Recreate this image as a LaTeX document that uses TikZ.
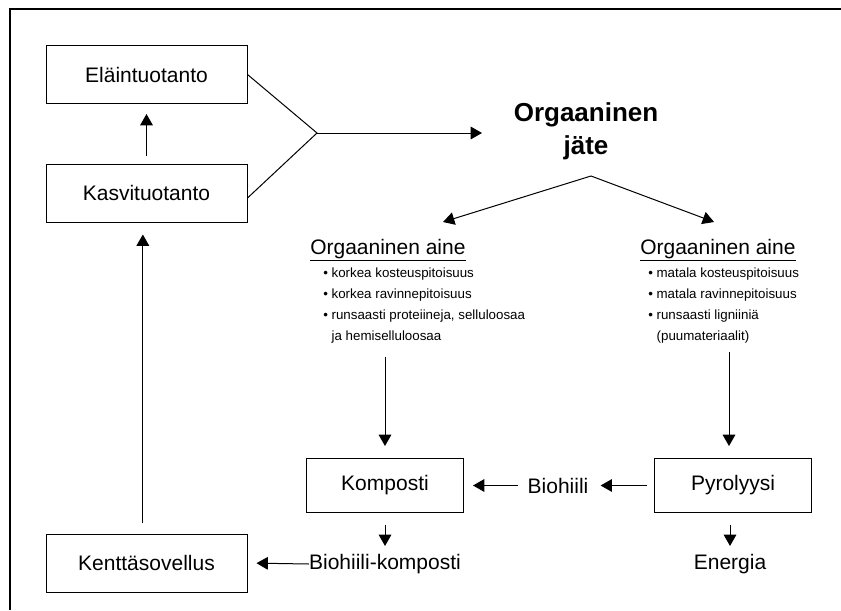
\documentclass[tikz,border=0pt]{standalone}
\usepackage{fontspec}
\setmainfont{Liberation Sans}
\usetikzlibrary{arrows.meta,positioning}

\begin{document}
\begin{tikzpicture}[x=0.75pt,y=-0.75pt,
  box/.style={draw,line width=0.75pt,minimum width=150.75pt,minimum height=43.5pt,
    inner sep=0pt,font=\fontsize{15.75}{19}\selectfont},
  smallbox/.style={box,minimum width=117.75pt,minimum height=40.5pt},
  label/.style={inner sep=0pt,font=\fontsize{15.75}{19}\selectfont},
  header/.style={label,anchor=base west},
  bullets/.style={inner sep=0pt,align=left,anchor=north west,
    font=\fontsize{10}{15.75}\selectfont},
  flow/.style={line width=0.75pt,-{Triangle[length=8.5pt,width=9.5pt]}},
  plain/.style={line width=0.75pt}]
  \useasboundingbox (0,0) rectangle (841,610);
  \draw[line width=1.9pt] (10,610) -- (10,9) -- (841,9);

  \node[box] (elain) at (146.5,74.5) {Eläintuotanto};
  \node[box] (kasvi) at (146.5,193) {Kasvituotanto};
  \node[box] (kentta) at (146.5,563) {Kenttäsovellus};

  \node[inner sep=0pt,align=center,font=\fontsize{19.5}{24.75}\selectfont\bfseries]
    (jate) at (586,131) {Orgaaninen\\jäte};
  \coordinate (join) at (317,133);
  \coordinate (jatein) at (482,133);
  \coordinate (apex) at (591,176);
  \coordinate (tipL) at (443,222);
  \coordinate (tipR) at (714,222);

  \node[header] (aineL) at (310,254) {\underline{Orgaaninen aine}};
  \node[bullets] (listL) at (323,268) {• korkea kosteuspitoisuus\\
    • korkea ravinnepitoisuus\\
    • runsaasti proteiineja, selluloosaa\\
    \phantom{• }ja hemiselluloosaa};
  \node[header] (aineR) at (640,254) {\underline{Orgaaninen aine}};
  \node[bullets] (listR) at (648,268) {• matala kosteuspitoisuus\\
    • matala ravinnepitoisuus\\
    • runsaasti ligniiniä\\
    \phantom{• }(puumateriaalit)};

  \node[smallbox] (komposti) at (385,485.5) {Komposti};
  \node[smallbox] (pyro) at (733,485.5) {Pyrolyysi};
  \node[label] (biohiili) at (558,485.5) {Biohiili};
  \node[label] (bhk) at (385,564) {Biohiili-komposti};
  \node[label] (energia) at (730,564) {Energia};
  \coordinate (startL) at (385,357);
  \coordinate (startR) at (729,352);

  \draw[plain] (elain.east) -- (join) -- ([yshift=-3.75pt]kasvi.east);
  \draw[flow] (join) -- (jatein);
  \draw[flow] (apex) -- (tipL);
  \draw[flow] (apex) -- (tipR);
  \draw[flow] ([yshift=6pt]kasvi.north) -- ([yshift=-7.5pt]elain.south);
  \draw[flow] ([xshift=-2.75pt,yshift=8.25pt]kentta.north) -- ([xshift=-2.75pt,yshift=-9pt]kasvi.south);
  \draw[flow] (startL) -- ([yshift=9pt]komposti.north);
  \draw[flow] (startR) -- ([yshift=9pt]pyro.north -| startR);
  \draw[flow,shorten <=5pt,shorten >=9pt] (pyro.west) -- (biohiili.east);
  \draw[flow,shorten <=7pt,shorten >=6.75pt] (biohiili.west) -- (komposti.east);
  \draw[flow] ([yshift=-9pt]komposti.south) -- ([yshift=6pt]bhk.north);
  \draw[flow] ([yshift=-9pt]pyro.south -| energia) -- ([yshift=6pt]energia.north);
  \draw[flow,shorten >=6.75pt] (bhk.west) -- (kentta.east);
\end{tikzpicture}
\end{document}
